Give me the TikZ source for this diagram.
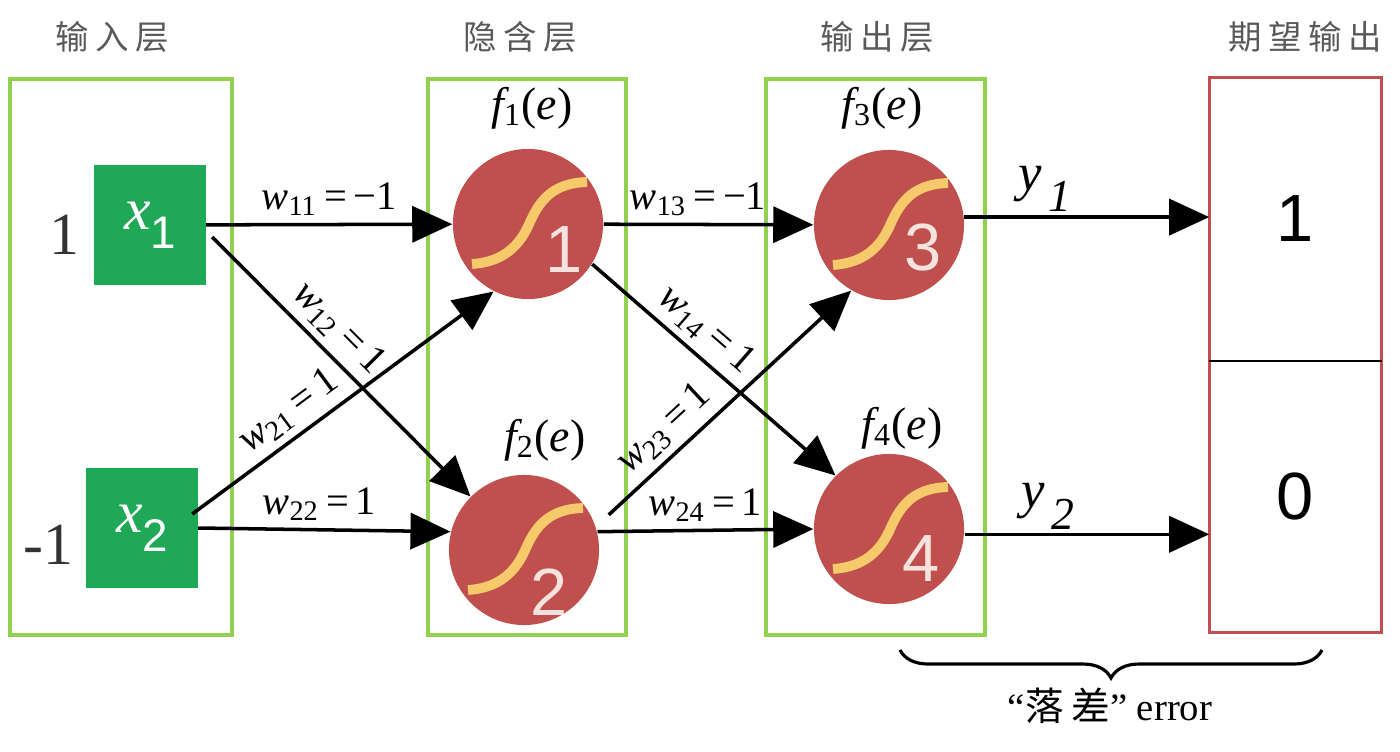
\documentclass[tikz,border=0pt]{standalone}
\usepackage{fontspec}
\setmainfont{Liberation Serif}
\setsansfont{Liberation Sans}
\newfontfamily\cjk[LetterSpace=20]{Noto Sans CJK SC}
\usetikzlibrary{arrows.meta,decorations.pathreplacing,positioning}
\definecolor{framegreen}{HTML}{92D050}
\definecolor{inputgreen}{HTML}{1FA855}
\definecolor{neuronred}{HTML}{C0504D}
\definecolor{sigyellow}{HTML}{F6C96A}
\definecolor{digitpink}{HTML}{F6E2DF}
\definecolor{framered}{HTML}{C0504D}
\newcommand{\inlab}[1]{{\fontsize{17}{17}\selectfont\itshape x}\raisebox{-0.55em}{\sffamily\fontsize{13}{13}\selectfont #1}}
\newcommand{\wt}[2]{\textit{w}\textsubscript{#1}\,=\,#2}
\newcommand{\fe}[1]{\textit{f}\kern-0.12em\textsubscript{#1}(\textit{e})}
\newcommand{\yout}[1]{\textit{y}\kern0.12em\raisebox{-0.4em}{\fontsize{13}{13}\selectfont\textit{#1}}}

\begin{document}
\begin{tikzpicture}[x=0.01cm,y=-0.01cm,
	layer/.style={draw=framegreen,line width=0.9pt},
	title/.style={font=\cjk\fontsize{9.5}{11}\selectfont,text=black!65},
	inbox/.style={fill=inputgreen,text=white,minimum width=1.11cm,minimum height=1.2cm,inner sep=0pt},
	neuron/.style={circle,fill=neuronred,minimum size=1.5cm,inner sep=0pt},
	sig/.style={draw=sigyellow,line width=2.8pt},
	digit/.style={font=\sffamily\fontsize{19}{19}\selectfont,text=digitpink},
	conn/.style={line width=1pt,-{Triangle[length=0.4cm,width=0.36cm]}},
	wlabel/.style={font=\fontsize{11.5}{12}\selectfont,inner sep=2pt},
	flabel/.style={font=\fontsize{13}{14}\selectfont},
	vallab/.style={font=\fontsize{17}{17}\selectfont,text=black!80},
	target/.style={font=\sffamily\fontsize{19}{19}\selectfont,minimum width=1.71cm,inner sep=0pt}]
	\useasboundingbox (0,0) rectangle (1400,751);

	% Layer titles
	\node[title] (tin) at (112,37) {输入层};
	\node[title] (thid) at (520,37) {隐含层};
	\node[title] (tout) at (877,37) {输出层};
	\node[title] (texp) at (1305,37) {期望输出};

	% Layer frames
	\draw[layer] (10,79) rectangle (232,635);
	\draw[layer] (428,79) rectangle (626,635);
	\draw[layer] (766,79) rectangle (985,635);

	% Inputs
	\node[inbox] (x1) at (150,225) {\inlab{1}};
	\node[inbox] (x2) at (142,528) {\inlab{2}};
	\node[vallab,left=0.02cm of x1,yshift=-0.1cm] (v1) {1};
	\node[vallab,left=0cm of x2,yshift=-0.17cm] (v2) {-1};

	% Neurons
	\foreach \n/\px/\py/\dx/\dy in {1/528/224/36/26, 2/524/550/25/42, 3/889/225/34/22, 4/889/529/32/30} {
		\node[neuron] (n\n) at (\px,\py) {};
		\draw[sig] ([shift={(-56,40)}]n\n.center) .. controls ([shift={(-25,38)}]n\n.center) and ([shift={(-8,22)}]n\n.center) .. ([shift={(2,-2)}]n\n.center)
			.. controls ([shift={(12,-24)}]n\n.center) and ([shift={(25,-41)}]n\n.center) .. ([shift={(59,-42)}]n\n.center);
		\node[digit] (d\n) at ([shift={(\dx,\dy)}]n\n.center) {\n};
	}
	\node[flabel] (f1) at (532,108) {\fe{1}};
	\node[flabel] (f2) at (545,440) {\fe{2}};
	\node[flabel] (f3) at (882,108) {\fe{3}};
	\node[flabel] (f4) at (902,428) {\fe{4}};

	% Expected output
	\node[target,minimum height=2.82cm] (o1) at (1295.5,219) {1};
	\node[target,minimum height=2.72cm] (o2) at (1295.5,496) {0};
	\draw[draw=framered,line width=0.9pt] (o1.north west) rectangle (o2.south east);
	\draw[line width=0.5pt] (o1.south west) -- (o1.south east);

	% Input -> hidden
	\draw[conn] (x1) -- (n1) node[wlabel,above,pos=0.5] {\wt{11}{−1}};
	\draw[conn] ([shift={(6,12)}]x1.east) -- (n2.135) node[wlabel,above,sloped,pos=0.42] {\wt{12}{1}};
	\draw[conn] ([shift={(-6,-14)}]x2.east) -- (n1.243) node[wlabel,above,sloped,pos=0.37] {\wt{21}{1}};
	\draw[conn] (x2.east) -- (n2.166) node[wlabel,above,pos=0.48] {\wt{22}{1}};

	% Hidden -> output
	\draw[conn] (n1) -- (n3) node[wlabel,above,pos=0.45] {\wt{13}{−1}};
	\draw[conn] (n1.-32) -- (n4.135) node[wlabel,above,sloped,pos=0.4] {\wt{14}{1}};
	\draw[conn] ([shift={(14,-8)}]n2.21) -- (n3.240) node[wlabel,above,sloped,pos=0.3] {\wt{23}{1}};
	\draw[conn] (n2.14) -- (n4.west) node[wlabel,above,pos=0.5] {\wt{24}{1}};

	% Output -> expected
	\draw[conn] (n3.6) -- (n3.6 -| o1.west) node[font=\fontsize{15}{15}\selectfont,above,inner sep=1pt,pos=0.33] {\yout{1}};
	\draw[conn] (n4.-4) -- (n4.-4 -| o2.west) node[font=\fontsize{15}{15}\selectfont,above,inner sep=1pt,pos=0.34] {\yout{2}};

	% Error brace
	\coordinate (bl) at (900,650);
	\coordinate (br) at (1322,650);
	\draw[decorate,decoration={brace,mirror,amplitude=0.28cm},line width=0.9pt] (bl) -- (br);
	\node[font=\fontsize{11}{12}\selectfont] (err) at (1110,706) {“{\cjk 落差}” error};
\end{tikzpicture}
\end{document}
